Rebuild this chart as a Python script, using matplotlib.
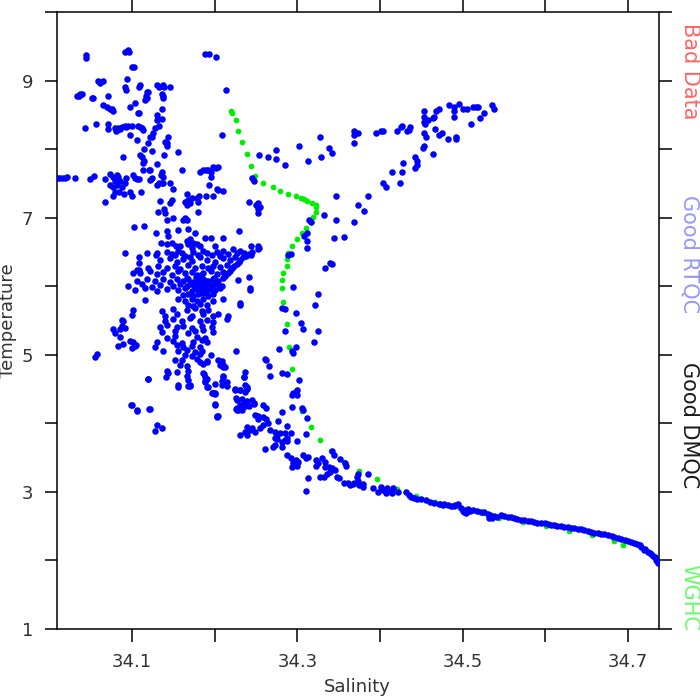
import numpy as np
import matplotlib
matplotlib.use('Agg')
import matplotlib.pyplot as plt

# WGHC climatology profile (salinity, temperature)
wghc_pts = [
    (34.220, 8.56), (34.221, 8.52), (34.226, 8.42), (34.228, 8.27), (34.233, 8.11), (34.239, 7.93),
    (34.244, 7.76), (34.249, 7.61), (34.258, 7.51), (34.270, 7.45), (34.279, 7.39), (34.289, 7.35),
    (34.298, 7.32), (34.304, 7.29), (34.308, 7.28), (34.312, 7.25), (34.318, 7.22), (34.322, 7.19),
    (34.323, 7.15), (34.322, 7.09), (34.319, 7.01), (34.317, 6.94), (34.310, 6.85), (34.306, 6.78),
    (34.300, 6.69), (34.294, 6.59), (34.289, 6.49), (34.288, 6.40), (34.287, 6.30), (34.283, 6.20),
    (34.281, 6.09), (34.281, 5.98), (34.283, 5.77), (34.287, 5.45), (34.290, 5.12), (34.294, 4.80),
    (34.299, 4.49), (34.306, 4.18), (34.316, 3.95), (34.327, 3.76), (34.341, 3.60), (34.357, 3.44),
    (34.374, 3.31), (34.396, 3.19), (34.420, 3.04), (34.444, 2.94), (34.467, 2.85), (34.495, 2.78),
    (34.524, 2.69), (34.544, 2.62), (34.573, 2.56), (34.601, 2.50), (34.628, 2.43), (34.656, 2.37),
    (34.683, 2.28), (34.694, 2.23),
]

# profile data, upper left group
warm_pts = [
    (34.044, 9.37), (34.045, 9.33), (34.092, 9.41), (34.095, 9.45), (34.096, 9.42), (34.188, 9.39),
    (34.193, 9.39), (34.202, 9.35), (34.100, 9.20), (34.102, 9.20), (34.059, 8.99), (34.065, 8.99),
    (34.061, 8.96), (34.094, 9.02), (34.091, 8.90), (34.093, 8.86), (34.108, 8.90), (34.110, 8.93),
    (34.130, 8.93), (34.133, 8.91), (34.138, 8.93), (34.139, 8.91), (34.146, 8.90), (34.037, 8.80),
    (34.039, 8.81), (34.034, 8.77), (34.036, 8.77), (34.052, 8.74), (34.053, 8.75), (34.071, 8.78),
    (34.118, 8.83), (34.120, 8.84), (34.117, 8.77), (34.116, 8.72), (34.118, 8.74), (34.136, 8.80),
    (34.138, 8.77), (34.137, 8.74), (34.104, 8.68), (34.065, 8.64), (34.070, 8.62), (34.073, 8.59),
    (34.077, 8.55), (34.076, 8.58), (34.098, 8.62), (34.109, 8.53), (34.107, 8.53), (34.136, 8.59),
    (34.130, 8.50), (34.132, 8.44), (34.136, 8.44), (34.130, 8.43), (34.043, 8.31), (34.057, 8.36),
    (34.071, 8.37), (34.071, 8.30), (34.079, 8.31), (34.082, 8.28), (34.083, 8.31), (34.081, 8.26),
    (34.085, 8.30), (34.088, 8.33), (34.092, 8.34), (34.095, 8.34), (34.100, 8.34), (34.093, 8.33),
    (34.107, 8.34), (34.110, 8.33), (34.112, 8.31), (34.128, 8.31), (34.133, 8.34), (34.098, 8.20),
    (34.106, 8.14), (34.113, 8.28), (34.125, 8.24), (34.124, 8.18), (34.122, 8.17), (34.140, 8.11),
    (34.142, 8.09), (34.144, 8.17), (34.142, 8.05), (34.120, 8.09), (34.115, 8.00), (34.124, 7.98),
    (34.156, 7.96), (34.209, 8.20), (34.214, 8.87), (34.110, 7.92), (34.112, 7.88), (34.115, 7.82),
    (34.113, 7.80), (34.139, 7.92), (34.130, 7.79), (34.089, 7.88), (34.113, 7.69), (34.122, 7.69),
    (34.161, 7.69), (34.009, 7.58), (34.012, 7.58), (34.015, 7.58), (34.019, 7.58), (34.022, 7.59),
    (34.031, 7.58), (34.049, 7.57), (34.054, 7.61), (34.067, 7.57), (34.073, 7.64), (34.077, 7.60),
    (34.082, 7.63), (34.083, 7.60), (34.079, 7.53), (34.073, 7.48), (34.077, 7.45), (34.082, 7.48),
    (34.085, 7.53), (34.088, 7.45), (34.092, 7.50), (34.093, 7.58), (34.079, 7.38), (34.077, 7.31),
    (34.084, 7.37), (34.068, 7.23), (34.090, 7.34), (34.098, 7.37), (34.100, 7.31), (34.101, 7.63),
    (34.104, 7.58), (34.106, 7.56), (34.108, 7.56), (34.121, 7.70), (34.122, 7.55), (34.124, 7.58),
    (34.136, 7.67), (34.138, 7.60), (34.135, 7.63), (34.130, 7.48), (34.133, 7.50), (34.136, 7.51),
    (34.138, 7.51), (34.146, 7.51), (34.150, 7.42), (34.111, 7.37), (34.134, 7.25), (34.139, 7.13),
    (34.148, 7.26), (34.146, 7.22), (34.131, 7.09), (34.140, 7.07), (34.150, 7.00), (34.142, 6.97),
    (34.167, 7.34), (34.164, 7.23), (34.168, 7.26), (34.170, 7.22), (34.167, 7.19), (34.173, 7.29),
    (34.179, 7.29), (34.181, 7.32), (34.180, 7.23), (34.182, 7.66), (34.186, 7.69), (34.190, 7.69),
    (34.192, 7.70), (34.195, 7.67), (34.198, 7.74), (34.202, 7.73), (34.204, 7.74), (34.195, 7.60),
    (34.193, 7.48), (34.198, 7.31), (34.210, 7.39), (34.204, 7.41), (34.203, 7.42), (34.190, 7.31),
    (34.180, 7.09), (34.162, 6.97), (34.164, 6.99), (34.167, 6.96), (34.241, 7.23), (34.245, 7.58),
    (34.247, 7.53), (34.252, 7.22), (34.253, 7.12), (34.102, 6.87), (34.115, 6.88), (34.229, 6.80),
]

# branch toward high salinity near the top
branch_pts = [
    (34.328, 8.17), (34.302, 8.04), (34.338, 8.01), (34.342, 7.95), (34.254, 7.92), (34.264, 7.89),
    (34.274, 7.99), (34.274, 7.86), (34.285, 7.77), (34.313, 7.83), (34.329, 7.89), (34.368, 8.27),
    (34.369, 8.21), (34.373, 8.23), (34.368, 8.09), (34.395, 8.24), (34.401, 8.26), (34.404, 8.26),
    (34.421, 8.27), (34.425, 8.33), (34.415, 7.67), (34.403, 7.51), (34.407, 7.45), (34.424, 7.51),
    (34.386, 7.31), (34.373, 7.18), (34.381, 7.10), (34.369, 6.93), (34.347, 7.31), (34.332, 7.04),
    (34.347, 6.96), (34.356, 6.72), (34.344, 6.71), (34.314, 6.97), (34.316, 6.93), (34.308, 6.74),
    (34.312, 6.77), (34.312, 6.66), (34.312, 6.56), (34.289, 6.46), (34.292, 6.47), (34.339, 6.34),
    (34.342, 6.33), (34.333, 6.26), (34.250, 7.18), (34.255, 7.15), (34.253, 7.07), (34.244, 6.59),
    (34.244, 6.45), (34.253, 6.55), (34.254, 6.56), (34.427, 8.34), (34.433, 8.27), (34.436, 8.33),
    (34.435, 8.28), (34.453, 8.55), (34.453, 8.47), (34.453, 8.39), (34.454, 8.36), (34.453, 8.23),
    (34.455, 8.17), (34.453, 8.04), (34.452, 8.01), (34.458, 8.42), (34.464, 8.45), (34.465, 8.47),
    (34.468, 8.55), (34.471, 8.59), (34.466, 8.30), (34.471, 8.20), (34.475, 8.23), (34.482, 8.15),
    (34.492, 8.18), (34.492, 8.15), (34.464, 7.93), (34.484, 8.64), (34.489, 8.55), (34.490, 8.61),
    (34.489, 8.47), (34.495, 8.66), (34.500, 8.59), (34.505, 8.59), (34.513, 8.61), (34.516, 8.62),
    (34.518, 8.62), (34.510, 8.37), (34.521, 8.45), (34.526, 8.53), (34.535, 8.64), (34.538, 8.59),
    (34.442, 7.89), (34.445, 7.83), (34.445, 7.77), (34.428, 7.80), (34.442, 7.72), (34.427, 7.66),
]

# dense cluster around 34.19 / 6 degrees
cluster_pts = [
    (34.142, 6.81), (34.144, 6.74), (34.156, 6.82), (34.168, 6.84), (34.176, 6.78), (34.129, 6.77),
    (34.167, 6.66), (34.170, 6.69), (34.174, 6.63), (34.179, 6.62), (34.168, 6.61), (34.173, 6.56),
    (34.182, 6.58), (34.188, 6.71), (34.195, 6.71), (34.201, 6.59), (34.210, 6.71), (34.135, 6.63),
    (34.142, 6.62), (34.148, 6.63), (34.153, 6.58), (34.158, 6.59), (34.092, 6.49), (34.108, 6.43),
    (34.118, 6.49), (34.130, 6.49), (34.129, 6.45), (34.108, 6.34), (34.108, 6.23),
    (34.142, 6.50), (34.148, 6.47), (34.152, 6.45), (34.156, 6.51), (34.161, 6.48), (34.164, 6.44),
    (34.170, 6.42), (34.174, 6.50), (34.180, 6.46), (34.186, 6.52), (34.191, 6.48), (34.197, 6.45),
    (34.203, 6.50), (34.207, 6.44), (34.210, 6.52), (34.216, 6.47), (34.222, 6.54), (34.227, 6.49),
    (34.231, 6.51), (34.235, 6.48), (34.239, 6.45), (34.245, 6.50), (34.253, 6.58),
    (34.134, 6.38), (34.146, 6.41), (34.155, 6.36), (34.162, 6.40), (34.173, 6.37), (34.182, 6.42),
    (34.191, 6.38), (34.201, 6.36), (34.210, 6.41), (34.219, 6.38), (34.225, 6.42), (34.231, 6.39),
    (34.119, 6.27), (34.132, 6.30), (34.142, 6.26), (34.152, 6.29), (34.158, 6.25), (34.168, 6.31),
    (34.176, 6.27), (34.185, 6.29), (34.192, 6.26), (34.198, 6.30), (34.207, 6.28), (34.215, 6.31),
    (34.221, 6.27), (34.227, 6.32),
    (34.110, 6.19), (34.122, 6.22), (34.130, 6.18), (34.138, 6.21), (34.148, 6.17), (34.156, 6.22),
    (34.164, 6.19), (34.173, 6.21), (34.179, 6.17), (34.186, 6.20), (34.195, 6.22), (34.203, 6.18),
    (34.210, 6.21), (34.216, 6.19),
    (34.106, 6.08), (34.118, 6.11), (34.128, 6.07), (34.138, 6.10), (34.146, 6.06), (34.155, 6.11),
    (34.162, 6.08), (34.168, 6.10), (34.174, 6.06), (34.180, 6.09), (34.186, 6.11), (34.192, 6.07),
    (34.198, 6.10), (34.204, 6.08), (34.210, 6.12), (34.228, 6.09),
    (34.095, 6.01), (34.112, 6.03), (34.124, 5.99), (34.134, 6.02), (34.150, 6.00), (34.158, 6.04),
    (34.167, 6.01), (34.173, 6.03), (34.176, 5.99), (34.180, 6.02), (34.185, 6.04), (34.188, 6.00),
    (34.192, 6.03), (34.197, 6.01), (34.203, 6.04), (34.209, 6.00),
    (34.104, 5.94), (34.116, 5.97), (34.130, 5.93), (34.142, 5.96), (34.156, 5.94), (34.164, 5.97),
    (34.173, 5.93), (34.179, 5.96), (34.182, 5.94), (34.186, 5.97), (34.191, 5.93), (34.195, 5.96),
    (34.201, 5.94), (34.207, 5.97), (34.243, 5.95),
    (34.162, 5.87), (34.168, 5.89), (34.174, 5.86), (34.180, 5.88), (34.186, 5.90), (34.192, 5.86),
    (34.198, 5.89),
    (34.116, 5.80), (34.156, 5.82), (34.164, 5.79), (34.173, 5.81), (34.179, 5.78), (34.186, 5.81),
    (34.198, 5.79), (34.210, 5.82),
    (34.168, 5.73), (34.174, 5.71), (34.182, 5.74), (34.191, 5.72), (34.231, 5.73),
    (34.101, 5.66), (34.136, 5.64), (34.150, 5.67), (34.167, 5.65), (34.176, 5.68), (34.185, 5.64),
    (34.192, 5.66),
    (34.100, 5.58), (34.140, 5.56), (34.155, 5.59), (34.173, 5.57), (34.186, 5.60), (34.198, 5.57),
    (34.204, 5.59), (34.216, 5.56),
    (34.088, 5.51), (34.140, 5.49), (34.150, 5.52), (34.161, 5.50), (34.170, 5.53), (34.182, 5.49),
    (34.191, 5.51), (34.198, 5.48), (34.215, 5.52),
    (34.134, 5.41), (34.142, 5.43), (34.155, 5.40), (34.162, 5.42), (34.173, 5.39), (34.185, 5.42),
    (34.197, 5.40),
    (34.136, 5.33), (34.152, 5.35), (34.168, 5.32), (34.176, 5.34), (34.186, 5.36), (34.198, 5.33),
    (34.085, 5.26), (34.142, 5.25), (34.152, 5.27), (34.179, 5.26), (34.188, 5.24),
    (34.098, 5.20), (34.130, 5.18), (34.150, 5.20), (34.161, 5.17), (34.174, 5.19), (34.185, 5.21),
    (34.191, 5.18),
    (34.128, 5.12), (34.155, 5.14), (34.162, 5.11), (34.173, 5.13), (34.182, 5.12),
    (34.138, 5.06), (34.156, 5.05), (34.167, 5.07), (34.176, 5.04), (34.185, 5.06), (34.226, 5.06),
    (34.055, 4.97), (34.058, 5.01), (34.164, 5.00), (34.173, 4.98), (34.182, 5.01), (34.195, 4.99),
    (34.152, 4.93), (34.161, 4.92), (34.179, 4.94), (34.191, 4.91), (34.204, 4.93), (34.209, 4.91),
    (34.262, 4.93), (34.158, 4.85), (34.167, 4.84), (34.186, 4.86), (34.210, 4.85), (34.266, 4.84),
    (34.142, 4.76), (34.144, 4.74), (34.155, 4.75), (34.168, 4.77), (34.186, 4.74), (34.237, 4.75),
    (34.141, 4.68), (34.167, 4.69), (34.188, 4.67), (34.210, 4.69), (34.235, 4.68),
    (34.119, 4.64), (34.168, 4.63), (34.191, 4.65), (34.209, 4.62),
    (34.156, 4.56), (34.170, 4.55), (34.201, 4.57), (34.215, 4.55), (34.237, 4.56),
    (34.225, 4.49), (34.231, 4.48), (34.239, 4.50), (34.198, 4.45), (34.201, 4.44),
    (34.227, 4.34), (34.233, 4.35), (34.239, 4.33), (34.245, 4.34),
    (34.100, 4.27), (34.201, 4.28), (34.231, 4.27), (34.237, 4.26), (34.247, 4.28), (34.259, 4.27),
    (34.106, 4.20), (34.122, 4.21), (34.227, 4.20), (34.233, 4.19), (34.203, 4.10), (34.252, 4.11),
    (34.259, 4.09),
    (34.183, 6.05), (34.188, 5.99), (34.193, 6.04), (34.196, 5.99), (34.200, 6.06), (34.189, 5.92),
    (34.194, 5.97), (34.178, 6.13), (34.184, 6.16), (34.199, 6.12), (34.205, 6.00), (34.190, 6.08),
    (34.186, 5.96), (34.182, 5.90), (34.176, 5.98), (34.170, 6.04), (34.166, 6.12), (34.212, 6.15),
    (34.218, 6.22), (34.224, 6.30), (34.229, 6.35), (34.234, 6.42), (34.238, 6.44), (34.242, 6.47),
    (34.221, 6.26),
]

# descending limb below the cluster
deep_pts = [
    (34.243, 5.98), (34.295, 5.99), (34.325, 5.89), (34.321, 5.72), (34.282, 5.69), (34.285, 5.67),
    (34.298, 5.61), (34.305, 5.47), (34.307, 5.38), (34.325, 5.35), (34.285, 5.35), (34.320, 5.18),
    (34.278, 5.09), (34.293, 5.06), (34.295, 5.03), (34.298, 5.12), (34.261, 4.94), (34.267, 4.69),
    (34.282, 4.74), (34.287, 4.72), (34.302, 4.63), (34.241, 6.14), (34.231, 5.76),
    (34.182, 4.90), (34.191, 4.90), (34.207, 4.85), (34.210, 4.82), (34.213, 4.82),
    (34.187, 4.72), (34.188, 4.62), (34.191, 4.53), (34.198, 4.44), (34.201, 4.43), (34.201, 4.27),
    (34.203, 4.11), (34.210, 4.68), (34.209, 4.56), (34.215, 4.61), (34.236, 4.68),
    (34.294, 4.42), (34.295, 4.45), (34.300, 4.49), (34.300, 4.41),
    (34.225, 4.50), (34.231, 4.49), (34.237, 4.46), (34.239, 4.53), (34.226, 4.37), (34.227, 4.23),
    (34.228, 4.20), (34.226, 4.21), (34.235, 4.31), (34.237, 4.27), (34.241, 4.26), (34.247, 4.30),
    (34.252, 4.07), (34.249, 4.12), (34.262, 4.23), (34.262, 4.06), (34.264, 4.01),
    (34.294, 4.24), (34.282, 4.17), (34.306, 4.23), (34.307, 4.20), (34.312, 4.08), (34.311, 3.85),
    (34.277, 4.04), (34.288, 3.96),
    (34.239, 3.95), (34.245, 3.93), (34.243, 3.91), (34.231, 3.83), (34.237, 3.88), (34.239, 3.83),
    (34.249, 3.88), (34.255, 3.93), (34.258, 3.98), (34.267, 3.91), (34.273, 3.88), (34.276, 3.83),
    (34.279, 3.86), (34.273, 3.79), (34.276, 3.77), (34.282, 3.73), (34.285, 3.76), (34.288, 3.79),
    (34.292, 3.86), (34.300, 3.74), (34.285, 3.86), (34.261, 3.63), (34.270, 3.66), (34.273, 3.69),
    (34.282, 3.66), (34.287, 3.74),
    (34.288, 3.54), (34.292, 3.50), (34.294, 3.37), (34.298, 3.47), (34.301, 3.44), (34.300, 3.38),
    (34.295, 3.42), (34.307, 3.54), (34.313, 3.51), (34.311, 3.50), (34.313, 3.20), (34.310, 3.01),
    (34.322, 3.47), (34.322, 3.38), (34.325, 3.42), (34.330, 3.50), (34.334, 3.44), (34.333, 3.36),
    (34.338, 3.36), (34.328, 3.22), (34.332, 3.22), (34.336, 3.26), (34.340, 3.29), (34.342, 3.35),
    (34.346, 3.32), (34.348, 3.22), (34.350, 3.20), (34.342, 3.60), (34.344, 3.54), (34.352, 3.48),
    (34.358, 3.42), (34.359, 3.38),
    (34.356, 3.13), (34.361, 3.13), (34.364, 3.10), (34.367, 3.12), (34.369, 3.13), (34.373, 3.16),
    (34.372, 3.22), (34.373, 3.26), (34.375, 3.10), (34.379, 3.07), (34.380, 3.12), (34.385, 3.26),
    (34.392, 3.06), (34.397, 3.00), (34.401, 3.07), (34.404, 3.03), (34.407, 2.99), (34.409, 3.06),
    (34.413, 3.00), (34.415, 2.99), (34.416, 3.06), (34.422, 3.00), (34.431, 3.00), (34.435, 2.96),
    (34.437, 2.93), (34.441, 2.91), (34.445, 2.90), (34.449, 2.90), (34.455, 2.88), (34.461, 2.85),
    (34.465, 2.84), (34.471, 2.82), (34.476, 2.81),
    (34.099, 4.27), (34.106, 4.18), (34.121, 4.21), (34.130, 3.98), (34.128, 3.89), (34.136, 3.93),
    (34.156, 4.53), (34.168, 4.55), (34.170, 4.56), (34.188, 4.61), (34.192, 4.53), (34.197, 4.45),
    (34.204, 4.11), (34.101, 5.19), (34.105, 5.15), (34.100, 5.10), (34.119, 4.64), (34.101, 6.20),
    (34.106, 6.24), (34.077, 5.38), (34.079, 5.32), (34.085, 5.37), (34.088, 5.42), (34.092, 5.39),
    (34.089, 5.50), (34.083, 5.13), (34.089, 5.16), (34.104, 5.13),
]

# tight deep water tail
tail_pts = [
    (34.473, 2.83), (34.482, 2.81), (34.489, 2.80), (34.494, 2.83), (34.498, 2.77), (34.501, 2.71),
    (34.506, 2.75), (34.513, 2.74), (34.522, 2.71), (34.530, 2.68), (34.534, 2.64), (34.538, 2.65),
    (34.546, 2.66), (34.555, 2.64), (34.562, 2.62), (34.570, 2.59), (34.579, 2.58), (34.586, 2.56),
    (34.595, 2.55), (34.603, 2.53), (34.610, 2.52), (34.619, 2.50), (34.627, 2.49), (34.635, 2.47),
    (34.643, 2.46), (34.652, 2.43), (34.659, 2.40), (34.667, 2.39), (34.676, 2.37), (34.683, 2.34),
    (34.692, 2.31), (34.700, 2.28), (34.707, 2.26), (34.716, 2.20), (34.719, 2.15), (34.724, 2.12),
    (34.728, 2.09), (34.732, 2.05), (34.736, 1.96),
    (34.477, 2.83), (34.486, 2.79), (34.491, 2.81), (34.503, 2.73), (34.509, 2.72), (34.517, 2.72),
    (34.526, 2.70), (34.533, 2.66), (34.542, 2.64), (34.550, 2.65), (34.558, 2.63), (34.566, 2.60),
    (34.574, 2.59), (34.583, 2.57), (34.590, 2.55), (34.599, 2.54), (34.607, 2.52), (34.614, 2.51),
    (34.623, 2.49), (34.631, 2.48), (34.639, 2.46), (34.647, 2.44), (34.655, 2.42), (34.663, 2.40),
    (34.671, 2.38), (34.680, 2.36), (34.688, 2.33), (34.696, 2.30), (34.703, 2.27), (34.711, 2.24),
    (34.714, 2.22), (34.721, 2.17), (34.726, 2.11), (34.730, 2.07), (34.734, 2.01), (34.735, 1.99),
    (34.500, 2.72), (34.504, 2.69), (34.532, 2.62), (34.536, 2.62),
]

x_ticks = [34.1, 34.2, 34.3, 34.4, 34.5, 34.6, 34.7]
x_labels = ['34.1', '', '34.3', '', '34.5', '', '34.7']
y_ticks = [1, 2, 3, 4, 5, 6, 7, 8, 9, 10]
y_labels = ['1', '', '3', '', '5', '', '7', '', '9', '']

side_labels = ['Bad Data', 'Good RTQC', 'Good DMQC', 'WGHC']
side_colors = ['#ff6464', '#9696ff', '#1a1a1a', '#64ff64']
side_y = [0.898, 0.637, 0.392, 0.147]

fig = plt.figure(figsize=(7, 7), dpi=100)
ax = fig.add_axes([0.081, 0.1014, 0.86, 0.8814])

gs, gt = zip(*wghc_pts)
ax.scatter(gs, gt, s=17, c='#00ee00', linewidths=0, zorder=2)

prof = warm_pts + branch_pts + cluster_pts + deep_pts + tail_pts
ps, pt = zip(*prof)
ax.scatter(ps, pt, s=22, c='#0000ff', linewidths=0, zorder=3)

ax.set_xlim(34.009, 34.737)
ax.set_ylim(1, 10)
ax.set_xticks(x_ticks)
ax.set_xticklabels(x_labels)
ax.set_yticks(y_ticks)
ax.set_yticklabels(y_labels)
ax.tick_params(direction='out', length=9, width=1.1, top=True, right=True,
               labelsize=13, labelcolor='#333333', pad=8)
for sp in ax.spines.values():
    sp.set_linewidth(1.1)

ax.set_xlabel('Salinity', fontsize=13, color='#333333', labelpad=5)
ax.set_ylabel('Temperature', fontsize=13, color='#333333', labelpad=3)

for lab, col, yy in zip(side_labels, side_colors, side_y):
    fig.text(0.985, yy, lab, color=col, rotation=-90, ha='center', va='center', fontsize=15)

fig.savefig('out.png', dpi=100)
